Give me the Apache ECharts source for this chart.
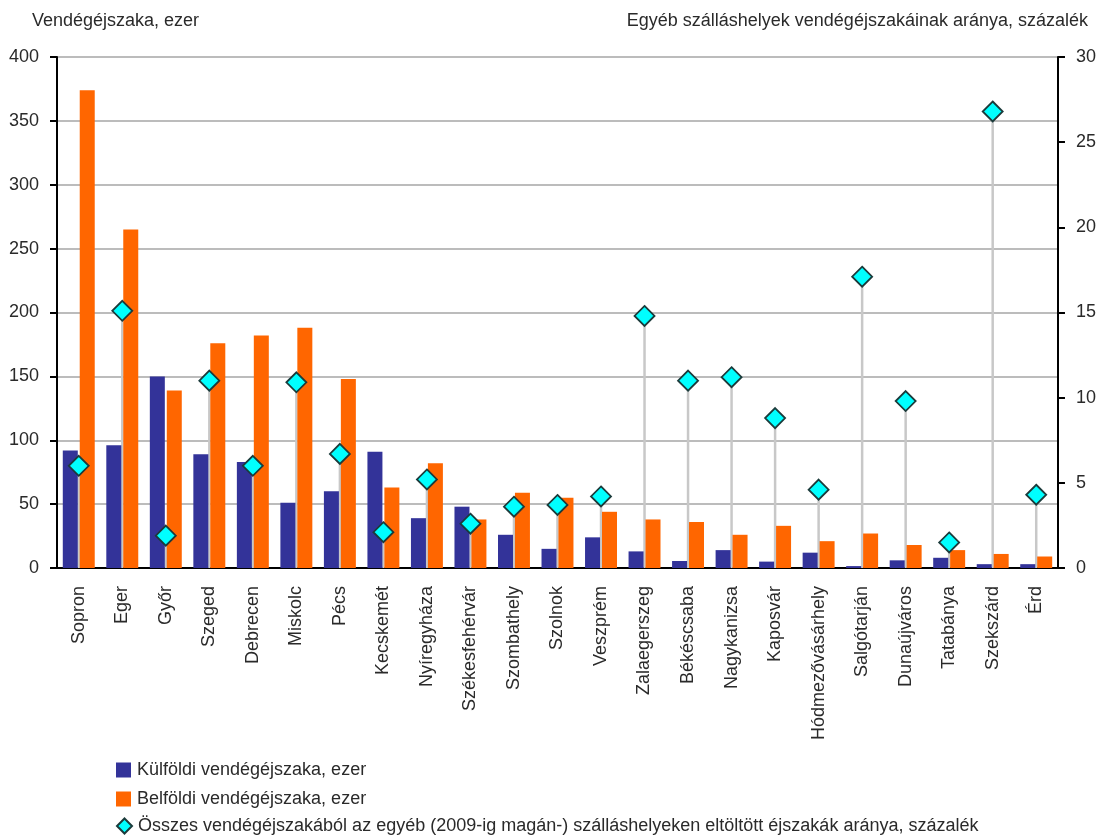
<!DOCTYPE html>
<html>
<head>
<meta charset="utf-8">
<script src="https://cdn.jsdelivr.net/npm/echarts@6/dist/echarts.min.js"></script>
<style>
html,body{margin:0;padding:0;background:#fff;}
#chart{width:1099px;height:840px;}
</style>
</head>
<body>
<div id="chart"></div>
<script>
const categories = ['Sopron','Eger','Győr','Szeged','Debrecen','Miskolc','Pécs','Kecskemét','Nyíregyháza','Székesfehérvár','Szombathely','Szolnok','Veszprém','Zalaegerszeg','Békéscsaba','Nagykanizsa','Kaposvár','Hódmezővásárhely','Salgótarján','Dunaújváros','Tatabánya','Szekszárd','Érd'];
const kulfoldi = [92,96,150,89,83,51,60,91,39,48,26,15,24,13,5.5,14,5,12,1.5,6,8,3,3];
const belfoldi = [374,265,139,176,182,188,148,63,82,38,59,55,44,38,36,26,33,21,27,18,14,11,9];
const egyebArany = [6.0,15.1,1.9,11.0,6.0,10.9,6.7,2.1,5.2,2.6,3.6,3.7,4.2,14.8,11.0,11.2,8.8,4.6,17.1,9.8,1.5,26.8,4.3];
const leftTicks = [0,400,50];
const rightTicks = [0,30,5];
const seriesNames = ['Külföldi vendégéjszaka, ezer','Belföldi vendégéjszaka, ezer','Összes vendégéjszakából az egyéb (2009-ig magán-) szálláshelyeken eltöltött éjszakák aránya, százalék'];

const FONT = 'Liberation Sans, Arial, sans-serif';
const TXT = '#2a2a2a';
const FS = 18;

function legendFor(name, top, icon, w, h){
  return {orient:'vertical', left:116, top:top, itemWidth:w, itemHeight:h, itemGap:0,
    textStyle:{fontSize:FS, color:TXT, fontFamily:FONT, padding:[0,0,0,1]},
    padding:0, data:[{name:name, icon:icon}]};
}

const chart = echarts.init(document.getElementById('chart'), null, {renderer:'canvas'});
chart.setOption({
  backgroundColor:'#fff',
  animation:false,
  textStyle:{fontFamily:FONT},
  graphic:[
    {type:'text', left:32, top:12, style:{text:'Vendégéjszaka, ezer', font:FS+'px '+FONT, fill:TXT}},
    {type:'text', right:11, top:12, style:{text:'Egyéb szálláshelyek vendégéjszakáinak aránya, százalék', font:FS+'px '+FONT, fill:TXT}}
  ],
  grid:{left:57, right:41, top:57, bottom:272, containLabel:false},
  legend:[
    legendFor(seriesNames[0], 761, 'rect', 15, 15),
    legendFor(seriesNames[1], 790, 'rect', 15, 15),
    legendFor(seriesNames[2], 817, 'diamond', 15, 15)
  ],
  xAxis:{
    type:'category', data:categories,
    axisLine:{lineStyle:{color:'#000', width:2}},
    axisTick:{show:false},
    axisLabel:{rotate:90, interval:0, fontSize:FS, color:TXT, margin:18, fontFamily:FONT}
  },
  yAxis:[
    {type:'value', min:leftTicks[0], max:leftTicks[1], interval:leftTicks[2],
     axisLine:{show:true, lineStyle:{color:'#000', width:2}},
     axisTick:{show:true, length:7, lineStyle:{color:'#000', width:2}},
     axisLabel:{fontSize:FS, color:TXT, margin:18, fontFamily:FONT},
     splitLine:{lineStyle:{color:'#a6a6a6', width:1.5}}},
    {type:'value', min:rightTicks[0], max:rightTicks[1], interval:rightTicks[2], position:'right',
     axisLine:{show:true, lineStyle:{color:'#000', width:2}},
     axisTick:{show:true, length:7, lineStyle:{color:'#000', width:2}},
     axisLabel:{fontSize:FS, color:TXT, margin:18, fontFamily:FONT},
     splitLine:{show:false}}
  ],
  series:[
    {type:'custom', yAxisIndex:1, z:1, silent:true,
     renderItem:function(params, api){
       const i = api.value(0), v = api.value(1);
       const p1 = api.coord([i, v]);
       const p0 = api.coord([i, 0]);
       return {type:'line', shape:{x1:p1[0], y1:p1[1], x2:p0[0], y2:p0[1]},
               style:{stroke:'#c8c8c8', lineWidth:2.5}};
     },
     data:egyebArany.map((v,i)=>[i,v])},
    {name:seriesNames[0], type:'bar', data:kulfoldi, barWidth:15, barGap:'13%', z:2,
     itemStyle:{color:'#333399'}},
    {name:seriesNames[1], type:'bar', data:belfoldi, barWidth:15, z:2,
     itemStyle:{color:'#ff6600'}},
    {name:seriesNames[2],
     type:'scatter', yAxisIndex:1, data:egyebArany, symbol:'diamond', symbolSize:20, z:5,
     itemStyle:{color:'#00ffff', borderColor:'#1b3b3b', borderWidth:1.8, opacity:1}}
  ]
});
</script>
</body>
</html>
